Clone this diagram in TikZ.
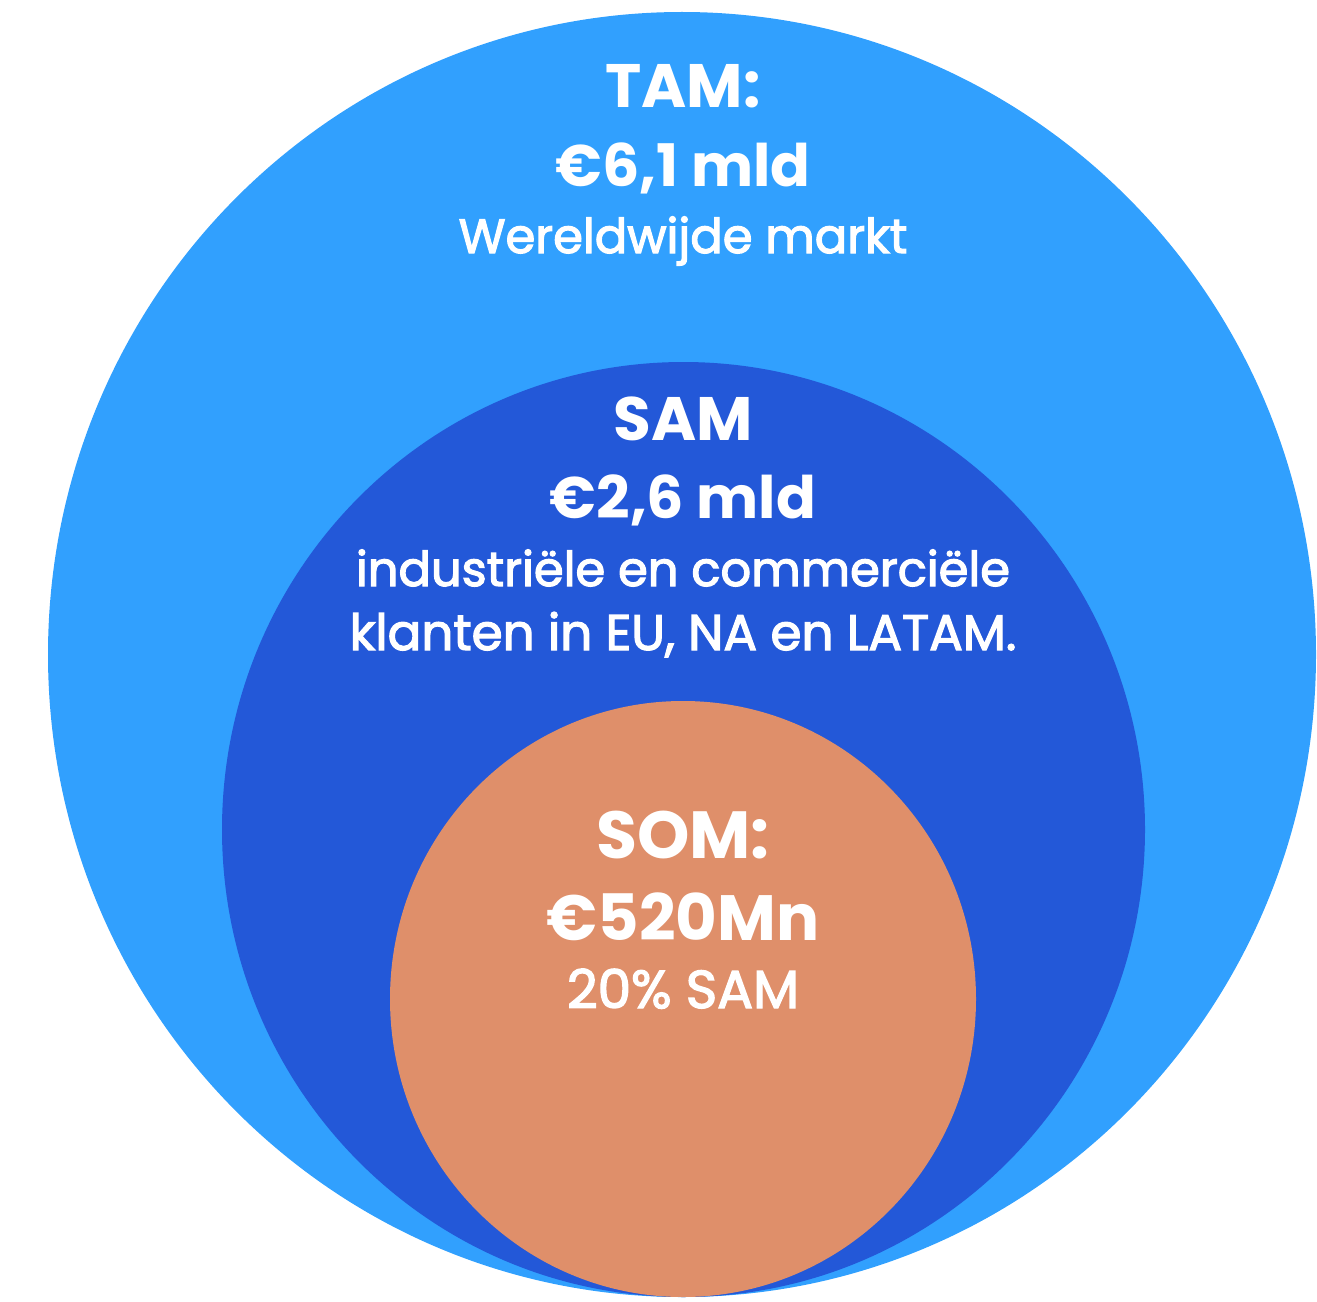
\documentclass[tikz,border=0pt]{standalone}
\usepackage{fontspec}
\setmainfont{Poppins}
\newfontfamily\medfont[FakeBold=2.5]{Poppins}
\usetikzlibrary{shapes.geometric}
\definecolor{tamblue}{HTML}{31A0FE}
\definecolor{samblue}{HTML}{2358D8}
\definecolor{somorange}{HTML}{DF8F6A}
\begin{document}
\begin{tikzpicture}[x=0.75pt,y=-0.75pt,
  disc/.style={ellipse,draw=none,inner sep=0pt,outer sep=0pt},
  headline/.style={text=white,anchor=base,inner sep=0pt,font=\fontsize{46}{46}\selectfont\bfseries},
  subline/.style={text=white,anchor=base,inner sep=0pt,font=\fontsize{36}{36}\selectfont\medfont}]
\useasboundingbox (0,0) rectangle (1317,1302);
\node[disc,fill=tamblue,minimum width=951pt,minimum height=963.75pt] (tam) at (682,654.5) {};
\node[disc,fill=samblue,minimum width=692.25pt,minimum height=701.25pt] (sam) at (683.5,829.5) {};
\node[disc,fill=somorange,minimum width=439.5pt,minimum height=447pt] (som) at (683,999) {};
% TAM
\node[headline] (t1) at (683,108) {TAM:};
\node[headline,font=\fontsize{44}{44}\selectfont\bfseries] (t2) at (683,187) {€6,1 mld};
\node[subline] (t3) at (683,253) {Wereldwijde markt};
% SAM
\node[headline] (s1) at (683,440) {SAM};
\node[headline,font=\fontsize{44}{44}\selectfont\bfseries] (s2) at (683,518) {€2,6 mld};
\node[subline] (s3) at (683,586) {industriële en commerciële};
\node[subline,font=\fontsize{37.5}{37.5}\selectfont\medfont] (s4) at (683,650) {klanten in EU, NA en LATAM.};
% SOM
\node[headline,font=\fontsize{50}{50}\selectfont\bfseries] (o1) at (683,858) {SOM:};
\node[headline,font=\fontsize{48}{48}\selectfont\bfseries] (o2) at (683,940) {€520Mn};
\node[subline,font=\fontsize{40}{40}\selectfont\medfont] (o3) at (683,1008) {20\% SAM};
\end{tikzpicture}
\end{document}
